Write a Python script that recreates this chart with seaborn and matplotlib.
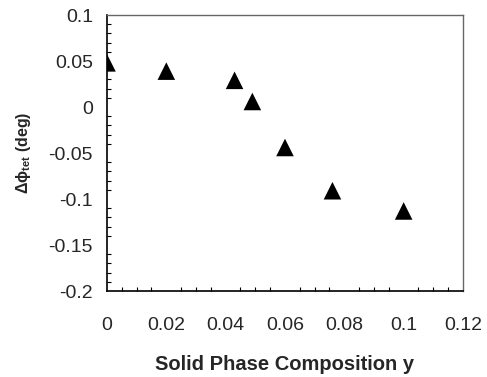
import numpy as np
import pandas as pd
import matplotlib
matplotlib.use("Agg")
import matplotlib.pyplot as plt
import seaborn as sns
from matplotlib.ticker import MultipleLocator

# composition y vs change in tetragonal angle
composition = [0.0, 0.020, 0.043, 0.049, 0.060, 0.076, 0.100]
delta_phi = [0.048, 0.039, 0.029, 0.006, -0.044, -0.091, -0.113]

x_ticks = [0, 0.02, 0.04, 0.06, 0.08, 0.1, 0.12]
x_labels = ["0", "0.02", "0.04", "0.06", "0.08", "0.1", "0.12"]
y_ticks = [-0.2, -0.15, -0.1, -0.05, 0, 0.05, 0.1]
y_labels = ["-0.2", "-0.15", "-0.1", "-0.05", "0", "0.05", "0.1"]

df = pd.DataFrame({"y": composition, "dphi": delta_phi})

sns.set_style("white")
plt.rcParams["font.family"] = ["Liberation Sans", "DejaVu Sans"]
plt.rcParams["mathtext.fontset"] = "custom"
plt.rcParams["mathtext.rm"] = "Liberation Sans:bold"
plt.rcParams["mathtext.it"] = "Liberation Sans:bold"
plt.rcParams["mathtext.bf"] = "Liberation Sans:bold"

fig = plt.figure(figsize=(4.87, 3.77), dpi=100)
ax = fig.add_axes([0.2197, 0.2281, 0.731, 0.7321])

sns.scatterplot(data=df, x="y", y="dphi", marker="^", s=160, color="black",
                edgecolor="none", ax=ax, legend=False)

ax.set_xticks(x_ticks, x_labels)
ax.set_yticks(y_ticks, y_labels)
ax.xaxis.set_minor_locator(MultipleLocator(0.005))
ax.yaxis.set_minor_locator(MultipleLocator(0.01))
ax.set_xlim(0, 0.12)
ax.set_ylim(-0.2, 0.1)

ax.tick_params(which="both", direction="in", length=3, width=0.8, color="black")
ax.tick_params(axis="x", which="major", pad=19, labelsize=14)
ax.tick_params(axis="y", which="major", pad=10, labelsize=14)
ax.tick_params(which="minor", bottom=True, left=True)

for side in ["left", "bottom"]:
    ax.spines[side].set_color("black")
    ax.spines[side].set_linewidth(1.2)
for side in ["top", "right"]:
    ax.spines[side].set_color("#666666")
    ax.spines[side].set_linewidth(1.0)

ax.set_xlabel("Solid Phase Composition y", fontsize=14.5, fontweight="bold", labelpad=15)
ax.set_ylabel(r"$\Delta\phi_{\mathrm{tet}}$ (deg)", fontsize=11.5, fontweight="bold", labelpad=11)

fig.savefig("out.png", dpi=100)
